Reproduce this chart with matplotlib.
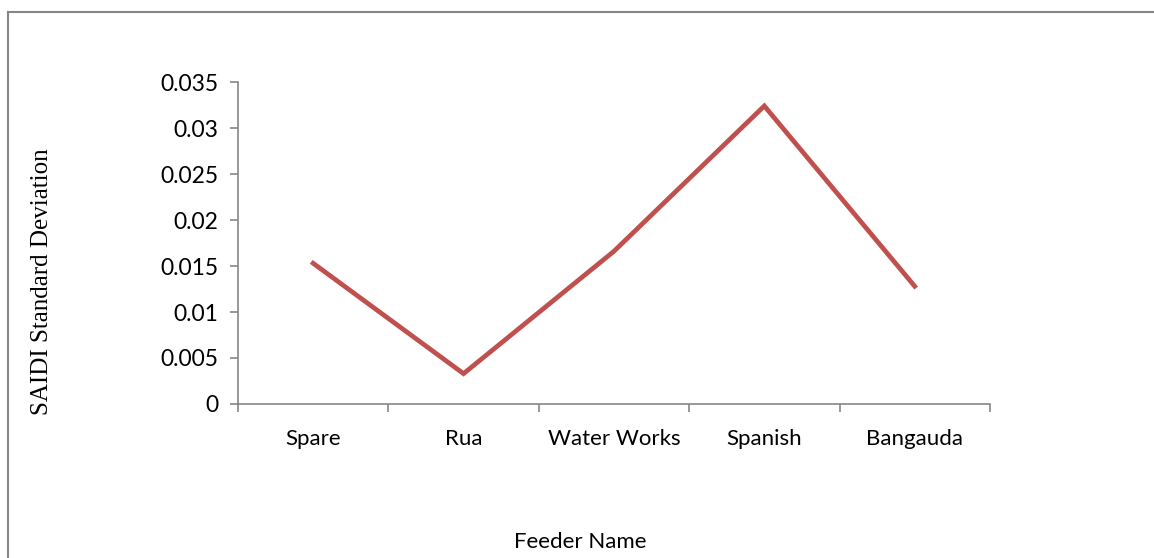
import matplotlib.pyplot as plt
from matplotlib.lines import Line2D
import numpy as np

feeders = ['Spare', 'Rua', 'Water Works', 'Spanish', 'Bangauda']
saidi_std = [0.0153, 0.0033, 0.0166, 0.0324, 0.0128]
y_ticks = [0, 0.005, 0.01, 0.015, 0.02, 0.025, 0.03, 0.035]
y_tick_labels = ['0', '0.005', '0.01', '0.015', '0.02', '0.025', '0.03', '0.035']

axis_color = '#868686'
line_color = '#C0504D'
sans = ['Lato', 'DejaVu Sans']

fig = plt.figure(figsize=(11.54, 5.58), dpi=100)
ax = fig.add_axes([0.2062, 0.276, 0.6516, 0.577])

x = np.arange(len(feeders)) + 0.5
ax.plot(x, saidi_std, color=line_color, linewidth=3.4, solid_joinstyle='miter')

ax.set_xlim(0, len(feeders))
ax.set_ylim(0, 0.035)

# category labels at centres, tick marks between categories
ax.set_xticks(x)
ax.set_xticklabels(feeders, fontsize=16, family=sans)
ax.set_xticks(np.arange(len(feeders) + 1), minor=True)
ax.tick_params(axis='x', which='major', length=0, pad=18)
ax.tick_params(axis='x', which='minor', length=6, direction='out', color=axis_color, width=1.2)

ax.set_yticks(y_ticks)
ax.set_yticklabels(y_tick_labels, fontsize=16.5, family=sans)
ax.tick_params(axis='y', length=6, direction='out', color=axis_color, width=1.2, pad=8)

for side in ['top', 'right']:
    ax.spines[side].set_visible(False)
for side in ['left', 'bottom']:
    ax.spines[side].set_color(axis_color)
    ax.spines[side].set_linewidth(1.2)

fig.text(0.036, 0.495, 'SAIDI Standard Deviation', rotation=90, ha='center', va='center',
         fontsize=18, family='Liberation Serif')
fig.text(0.503, 0.029, 'Feeder Name', ha='center', va='center', fontsize=16, family=sans)

# chart frame (left and top edges)
fig.add_artist(Line2D([8 / 1154, 8 / 1154], [0, 1 - 12 / 558], color=axis_color, linewidth=1.5))
fig.add_artist(Line2D([8 / 1154, 1], [1 - 12 / 558, 1 - 12 / 558], color=axis_color, linewidth=1.5))

fig.savefig('out.png', dpi=100)
plt.close(fig)
